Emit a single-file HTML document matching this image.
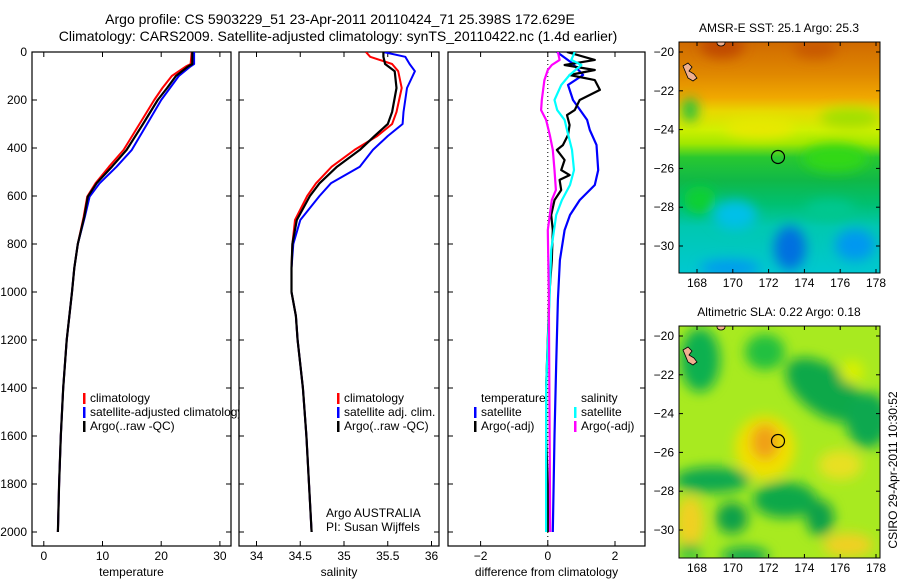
<!DOCTYPE html>
<html><head><meta charset="utf-8"><style>
html,body{margin:0;padding:0;background:#fff;}
svg{display:block;font-family:"Liberation Sans",sans-serif;}
</style></head><body>
<svg id="fig" width="900" height="580" viewBox="0 0 900 580" xmlns="http://www.w3.org/2000/svg">
<defs>
<filter id="blur" x="-20%" y="-20%" width="140%" height="140%"><feGaussianBlur stdDeviation="6"/></filter>
<clipPath id="clipSst"><rect x="679" y="42" width="201" height="231"/></clipPath>
<clipPath id="clipSla"><rect x="679" y="326" width="201" height="232"/></clipPath>
<clipPath id="clipP1"><rect x="32" y="52" width="199" height="494"/></clipPath>
<clipPath id="clipP2"><rect x="239" y="52" width="200" height="494"/></clipPath>
<clipPath id="clipP3"><rect x="448" y="52" width="197" height="494"/></clipPath>
<linearGradient id="sstGrad" x1="0" y1="0" x2="0" y2="1">
<stop offset="0" stop-color="#d06a00"/><stop offset="0.14" stop-color="#e08800"/>
<stop offset="0.24" stop-color="#f0a800"/><stop offset="0.3" stop-color="#e8d800"/>
<stop offset="0.38" stop-color="#d0f000"/><stop offset="0.44" stop-color="#a0e800"/>
<stop offset="0.5" stop-color="#28c830"/><stop offset="0.6" stop-color="#10b848"/>
<stop offset="0.7" stop-color="#00c070"/><stop offset="0.8" stop-color="#00c8b0"/>
<stop offset="1" stop-color="#00c8d0"/>
</linearGradient>
</defs>

<text x="340" y="24" font-size="14" text-anchor="middle">Argo profile: CS 5903229_51 23-Apr-2011 20110424_71 25.398S 172.629E</text>
<text x="338" y="41" font-size="14" text-anchor="middle">Climatology: CARS2009. Satellite-adjusted climatology: synTS_20110422.nc (1.4d earlier)</text>

<g id="panels"></g>

<g>
<text x="779" y="32" font-size="12" text-anchor="middle">AMSR-E SST: 25.1 Argo: 25.3</text>
<g clip-path="url(#clipSst)">
<rect x="679" y="42" width="201" height="231" fill="url(#sstGrad)"/>
<g filter="url(#blur)">
<ellipse cx="722" cy="46" rx="22" ry="12" fill="#c04800"/>
<ellipse cx="815" cy="48" rx="22" ry="10" fill="#c85800"/>
<ellipse cx="690" cy="110" rx="8" ry="12" fill="#20c040"/>
<ellipse cx="850" cy="118" rx="30" ry="10" fill="#a0e000"/>
<ellipse cx="760" cy="128" rx="35" ry="10" fill="#e8e800"/>
<ellipse cx="835" cy="158" rx="32" ry="14" fill="#30d818"/>
<ellipse cx="700" cy="200" rx="16" ry="14" fill="#10d030"/>
<ellipse cx="735" cy="215" rx="22" ry="15" fill="#00c0e8"/>
<ellipse cx="790" cy="248" rx="16" ry="22" fill="#0070e0"/>
<ellipse cx="855" cy="245" rx="20" ry="16" fill="#0098f0"/>
<ellipse cx="730" cy="268" rx="30" ry="8" fill="#0098f0"/>
<ellipse cx="830" cy="210" rx="25" ry="10" fill="#00c890"/>
</g>
<path d="M683,66 l5,-3 l4,4 l-3,4 l5,3 l3,4 l-4,3 l-5,-3 z" fill="#f0b090" stroke="#000" stroke-width="0.8"/>
<ellipse cx="721" cy="43" rx="4" ry="3" fill="#f0b090" stroke="#000" stroke-width="0.8"/>
<circle cx="778" cy="157" r="6.5" fill="none" stroke="#000" stroke-width="1.2"/>
</g>
<rect x="679" y="42" width="201" height="231" fill="none" stroke="#000"/>
<g id="sstAxes"></g>
</g>

<g>
<text x="779" y="316" font-size="12" text-anchor="middle">Altimetric SLA: 0.22 Argo: 0.18</text>
<g clip-path="url(#clipSla)">
<rect x="679" y="326" width="201" height="232" fill="#a8ea20"/>
<g filter="url(#blur)">
<ellipse cx="700" cy="360" rx="20" ry="32" fill="#10b050"/>
<ellipse cx="765" cy="352" rx="20" ry="18" fill="#20c040"/>
<ellipse cx="825" cy="390" rx="45" ry="24" fill="#10a848" transform="rotate(35 825 390)"/>
<ellipse cx="868" cy="420" rx="22" ry="28" fill="#10a850"/>
<ellipse cx="852" cy="372" rx="12" ry="12" fill="#d8f000"/>
<ellipse cx="765" cy="448" rx="30" ry="32" fill="#f0e000"/>
<ellipse cx="765" cy="442" rx="14" ry="18" fill="#f0a018"/>
<ellipse cx="712" cy="480" rx="38" ry="13" fill="#10a850"/>
<ellipse cx="785" cy="500" rx="32" ry="18" fill="#10a848"/>
<ellipse cx="732" cy="518" rx="16" ry="16" fill="#10a048"/>
<ellipse cx="820" cy="518" rx="14" ry="18" fill="#10a048"/>
<ellipse cx="690" cy="522" rx="14" ry="26" fill="#f0d020"/>
<ellipse cx="840" cy="465" rx="22" ry="15" fill="#e8e020"/>
<ellipse cx="848" cy="545" rx="25" ry="12" fill="#f0d020"/>
<ellipse cx="745" cy="556" rx="24" ry="9" fill="#10a850"/>
<ellipse cx="690" cy="552" rx="12" ry="8" fill="#20c040"/>
</g>
<path d="M683,350 l5,-3 l4,4 l-3,4 l5,3 l3,4 l-4,3 l-5,-3 z" fill="#f0b090" stroke="#000" stroke-width="0.8"/>
<ellipse cx="721" cy="327" rx="4" ry="3" fill="#f0b090" stroke="#000" stroke-width="0.8"/>
<circle cx="778" cy="441" r="6.5" fill="none" stroke="#000" stroke-width="1.2"/>
</g>
<rect x="679" y="326" width="201" height="232" fill="none" stroke="#000"/>
<g id="slaAxes"></g>
</g>

<text transform="translate(897,470) rotate(-90)" font-size="12" text-anchor="middle">CSIRO 29-Apr-2011 10:30:52</text>
</svg>
<script>
// ---- Temperature profiles ----
const tDepth = [0,50,60,100,150,200,300,408,478,547,603,686,800,900,1000,1200,1400,1600,1800,2000];
const tArgo  = [25.3,25.3,24.6,22.5,21.0,19.4,16.9,14.1,11.6,9.0,7.5,6.9,5.8,5.2,4.8,3.9,3.3,2.9,2.6,2.4];
const tClim  = [25.2,25.0,24.2,21.8,20.2,18.8,16.3,13.6,11.1,8.8,7.4,6.8,5.8,5.2,4.8,3.9,3.3,2.9,2.6,2.4];
const tSat   = [25.6,25.6,25.0,23.0,21.5,20.0,17.6,15.0,12.4,9.5,7.8,7.0,5.8,5.2,4.8,3.9,3.3,2.9,2.6,2.4];
// ---- Salinity profiles ----
const sDepth = [0,20,50,80,150,250,300,350,408,478,547,600,700,800,900,1000,1100,1200,1400,1600,1800,2000];
const sArgo  = [35.45,35.45,35.47,35.58,35.60,35.55,35.50,35.35,35.18,34.92,34.72,34.61,34.46,34.41,34.40,34.40,34.45,34.47,34.53,34.57,34.60,34.63];
const sClim  = [35.25,35.30,35.55,35.62,35.66,35.60,35.55,35.38,35.12,34.86,34.68,34.58,34.44,34.41,34.40,34.40,34.45,34.47,34.53,34.57,34.60,34.63];
const sSat   = [35.45,35.70,35.75,35.81,35.72,35.68,35.67,35.50,35.33,35.18,34.85,34.72,34.50,34.42,34.40,34.40,34.45,34.47,34.53,34.57,34.60,34.63];
// ---- Differences from climatology ----
const dTSatDepth = [0,46,96,137,200,283,325,387,492,554,617,679,742,867,1033,1300,1600,2000];
const dTSat      = [0.27,0.72,1.05,0.6,0.75,1.17,1.25,1.45,1.5,1.4,0.95,0.66,0.5,0.36,0.3,0.25,0.2,0.15];
const dTArgoDepth = [0,33,54,75,96,117,158,200,242,263,304,346,388,408,450,492,513,533,575,617,679,742,867,1000,1200,1400,1600,1800,2000];
const dTArgo      = [0.57,1.4,0.5,1.4,0.65,1.4,1.55,0.95,0.8,0.57,0.65,0.6,0.45,0.27,0.5,0.4,0.65,0.35,0.4,0.2,0.1,0.15,0.12,0.05,0.0,-0.05,-0.05,0.0,0.0];
const dSSatDepth = [0,33,54,96,138,200,242,283,325,408,492,554,617,679,825,1033,1400,1700,2000];
const dSSat      = [0.8,0.7,1.0,0.65,0.4,0.2,0.28,0.5,0.57,0.72,0.78,0.66,0.42,0.25,0.1,0.05,-0.05,-0.05,-0.05];
const dSArgoDepth = [0,33,54,75,117,200,242,283,346,408,492,575,617,679,742,1000,1500,2000];
const dSArgo      = [0.3,0.35,0.12,0.0,-0.1,-0.18,-0.2,-0.05,0.06,0.15,0.2,0.24,0.12,0.06,0.0,0.03,0.05,0.07];
// ---- Tick labels ----
const depthTicks = [0,200,400,600,800,1000,1200,1400,1600,1800,2000];
const tTicks = [0,10,20,30];
const sTicks = [34,34.5,35,35.5,36];
const sTickLabels = ["34","34.5","35","35.5","36"];
const dTicks = [-2,0,2];
const latTicks = [-20,-22,-24,-26,-28,-30];
const lonTicks = [168,170,172,174,176,178];

const NS = "http://www.w3.org/2000/svg";
function mk(tag, attrs, parent){const e=document.createElementNS(NS,tag);for(const k in attrs)e.setAttribute(k,attrs[k]);parent.appendChild(e);return e;}
const yD = d => 52 + d*0.24;
const panels = [
  {x0:32,x1:231,name:'temperature-panel',clip:'clipP1',xs:v=>43.8+v*5.87,ticks:tTicks,labels:tTicks.map(String),xlabel:'temperature'},
  {x0:239,x1:439,name:'salinity-panel',clip:'clipP2',xs:v=>256.5+(v-34)*87.5,ticks:sTicks,labels:sTickLabels,xlabel:'salinity'},
  {x0:448,x1:645,name:'difference-panel',clip:'clipP3',xs:v=>547.8+v*33.6,ticks:dTicks,labels:dTicks.map(v=>v<0?'\u2212'+Math.abs(v):String(v)),xlabel:'difference from climatology'}
];
const root = document.getElementById('panels');
panels.forEach((p,i)=>{
  const g = mk('g',{},root);
  
  
  const r = mk('rect',{x:p.x0,y:52,width:p.x1-p.x0,height:494,fill:'#fff',stroke:'#000','stroke-width':1.2},g);
  
  
  depthTicks.forEach(d=>{
    mk('line',{x1:p.x0,x2:p.x0+5,y1:yD(d),y2:yD(d),stroke:'#000'},g);
    mk('line',{x1:p.x1,x2:p.x1-5,y1:yD(d),y2:yD(d),stroke:'#000'},g);
    if(i===0){
      const t = mk('text',{x:27,y:yD(d)+4,'font-size':12,'text-anchor':'end'},g);
      t.textContent = d;
      
      
    }
  });
  p.ticks.forEach((v,k)=>{
    const x = p.xs(v);
    mk('line',{x1:x,x2:x,y1:546,y2:541,stroke:'#000'},g);
    mk('line',{x1:x,x2:x,y1:52,y2:57,stroke:'#000'},g);
    const t = mk('text',{x:x,y:560,'font-size':12,'text-anchor':'middle'},g);
    t.textContent = p.labels[k];
    
    
  });
  const xl = mk('text',{x:(p.x0+p.x1)/2,y:576,'font-size':12,'text-anchor':'middle'},g);
  xl.textContent = p.xlabel;
  
  
  p.g = mk('g',{'clip-path':'url(#'+p.clip+')'},g);
});
function line(p, depths, vals, color, w, name){
  const pts = depths.map((d,k)=>p.xs(vals[k]).toFixed(1)+','+yD(d).toFixed(1)).join(' ');
  const e = mk('polyline',{points:pts,fill:'none',stroke:color,'stroke-width':w,'stroke-linejoin':'round'},p.g);
  
  
}
const z = mk('line',{x1:panels[2].xs(0),x2:panels[2].xs(0),y1:52,y2:546,stroke:'#000','stroke-dasharray':'1,3'},panels[2].g);


line(panels[0], tDepth, tClim, '#f00', 2, 'temperature-climatology-line');
line(panels[0], tDepth, tSat, '#00f', 2, 'temperature-satellite-line');
line(panels[0], tDepth, tArgo, '#000', 2.2, 'temperature-argo-line');
line(panels[1], sDepth, sClim, '#f00', 2, 'salinity-climatology-line');
line(panels[1], sDepth, sSat, '#00f', 2, 'salinity-satellite-line');
line(panels[1], sDepth, sArgo, '#000', 2.2, 'salinity-argo-line');
line(panels[2], dTSatDepth, dTSat, '#00f', 2.2, 'temp-satellite-diff-line');
line(panels[2], dTArgoDepth, dTArgo, '#000', 2.2, 'temp-argo-diff-line');
line(panels[2], dSSatDepth, dSSat, '#0ff', 2.2, 'sal-satellite-diff-line');
line(panels[2], dSArgoDepth, dSArgo, '#f0f', 2.2, 'sal-argo-diff-line');

function legend(x, y, color, label, parentG){
  const g = mk('g',{},parentG);
  
  
  if(color) mk('rect',{x:x-7,y:y-9,width:2.5,height:11,fill:color},g);
  const t = mk('text',{x:x,y:y,'font-size':12},g);
  t.textContent = label;
}
const L1 = mk('g',{},root);
legend(90,402,'#f00','climatology',L1);
legend(90,416,'#00f','satellite-adjusted climatology',L1);
legend(90,430,'#000','Argo(..raw -QC)',L1);
mk('rect',{x:239.6,y:405,width:8,height:14,fill:'#fff'},root);
mk('line',{x1:239,x2:239,y1:400,y2:440,stroke:'#000','stroke-width':1.2},root);
const L2 = mk('g',{},root);
legend(344,402,'#f00','climatology',L2);
legend(344,416,'#00f','satellite adj. clim.',L2);
legend(344,430,'#000','Argo(..raw -QC)',L2);
const a1 = mk('text',{x:326,y:517,'font-size':12},root); a1.textContent='Argo AUSTRALIA';


const a2 = mk('text',{x:326,y:531,'font-size':12},root); a2.textContent='PI: Susan Wijffels';


const L3 = mk('g',{},root);
legend(481,402,null,'temperature',L3);
legend(481,416,'#00f','satellite',L3);
legend(481,430,'#000','Argo(-adj)',L3);
legend(581,402,null,'salinity',L3);
legend(581,416,'#0ff','satellite',L3);
legend(581,430,'#f0f','Argo(-adj)',L3);

function mapAxes(id, top, bottom){
  const g = document.getElementById(id);
  const yL = lat => top + 10 + (-20-lat)*19.4;
  const xL = lon => 697 + (lon-168)*17.9;
  latTicks.forEach(l=>{
    const y = yL(l);
    mk('line',{x1:679,x2:683,y1:y,y2:y,stroke:'#000'},g);
    mk('line',{x1:880,x2:876,y1:y,y2:y,stroke:'#000'},g);
    const t = mk('text',{x:674,y:y+4,'font-size':12,'text-anchor':'end'},g);
    t.textContent = '\u2212'+Math.abs(l);
    
    
  });
  lonTicks.forEach(l=>{
    const x = xL(l);
    mk('line',{x1:x,x2:x,y1:bottom,y2:bottom-4,stroke:'#000'},g);
    mk('line',{x1:x,x2:x,y1:top,y2:top+4,stroke:'#000'},g);
    const t = mk('text',{x:x,y:bottom+14,'font-size':12,'text-anchor':'middle'},g);
    t.textContent = l;
    
    
  });
}
mapAxes('sstAxes', 42, 273);
mapAxes('slaAxes', 326, 558);
</script>
</body></html>
